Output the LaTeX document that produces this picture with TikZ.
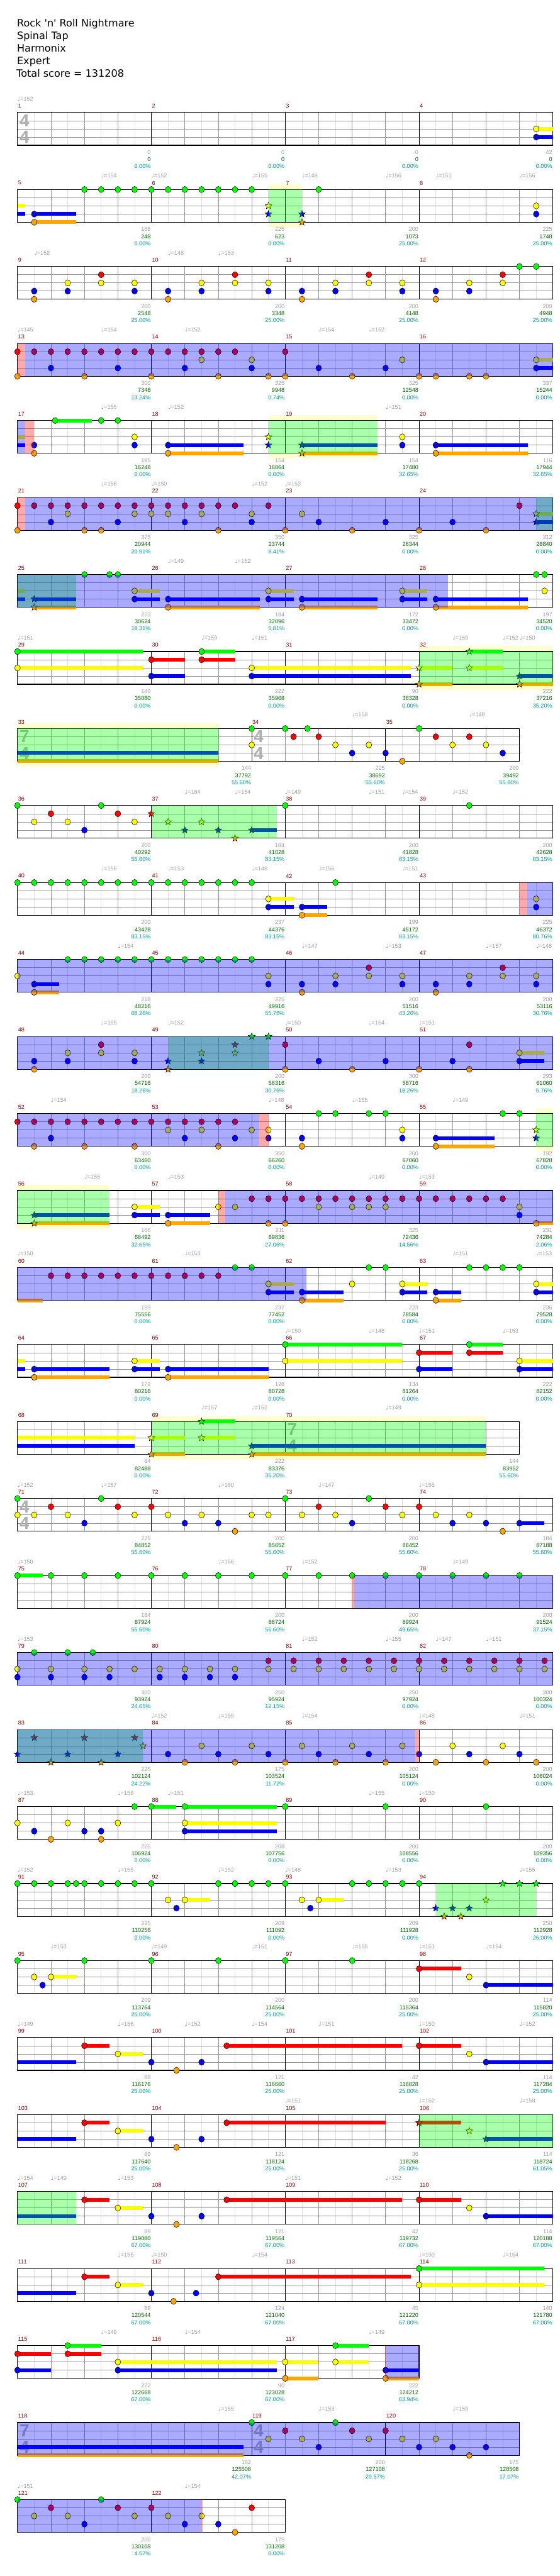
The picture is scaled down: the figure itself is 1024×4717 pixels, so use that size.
\documentclass[tikz,border=0pt]{standalone}
\usepackage{fontspec}
\setmainfont{DejaVu Sans}
\newfontfamily\numfont{Liberation Sans}
\newfontfamily\symfont{DejaVu Sans}

\definecolor{ng}{RGB}{0,255,0}
\definecolor{nr}{RGB}{255,0,0}
\definecolor{ny}{RGB}{255,255,0}
\definecolor{nb}{RGB}{0,0,255}
\definecolor{no}{RGB}{255,165,0}
\definecolor{bandy}{RGB}{255,255,208}
\definecolor{gridl}{RGB}{222,222,222}
\definecolor{gridq}{RGB}{150,150,150}
\definecolor{mred}{RGB}{139,0,0}
\definecolor{tgray}{RGB}{160,160,160}
\definecolor{sgreen}{RGB}{0,100,0}
\definecolor{pteal}{RGB}{0,150,150}
\definecolor{tsgray}{RGB}{175,175,175}

\tikzset{
  notehead/.style={draw=black,line width=0.6pt},
  gridlt/.style={draw=gridl,line width=0.8pt},
  gridqt/.style={draw=gridq,line width=0.8pt},
  barline/.style={draw=black,line width=0.9pt},
  rim/.style={draw=black,line width=1.3pt},
  small/.style={inner sep=0pt,font=\numfont\fontsize{10.5}{12}\selectfont},
  mnum/.style={small,anchor=west,xshift=1pt,text=mred},
  tmp/.style={small,anchor=west,text=tgray},
  scg/.style={small,anchor=east,xshift=-1pt,text=tgray},
  scs/.style={small,anchor=east,xshift=-1pt,text=sgreen},
  scp/.style={small,anchor=east,xshift=-1pt,text=pteal},
  tsg/.style={anchor=west,inner sep=0pt,text=tsgray,font=\numfont\bfseries\fontsize{32}{32}\selectfont},
  ttl/.style={anchor=base west,inner sep=0pt,font=\fontsize{18.5}{22}\selectfont},
}

% staff of #1 eighths
\newcommand\staff[1]{%
  \fill[white] (0,0) rectangle (#1,4);
  \foreach \k in {1,3,...,#1} {\draw[gridlt] (\k,0) -- (\k,4);}
  \foreach \k in {2,4,...,#1} {\draw[gridqt] (\k,0) -- (\k,4);}
  \foreach \l in {1,2,3} {\draw[gridqt] (0,\l) -- (#1,\l);}}
\newcommand\bars[2]{\foreach \k in {#2} {\draw[barline] (\k,0) -- (\k,4);}\draw[rim] (0,0) rectangle (#1,4);}
\newcommand\band[2]{\fill[bandy] (#1,-0.67) rectangle (#2,4.67);}
\newcommand\tsig[3]{\node[tsg] (ts\rid-#1a) at (#1+0.12,1) {#2};\node[tsg] (ts\rid-#1b) at (#1+0.12,3) {#3};}
% notes
\newcommand\nh[3]{\draw[notehead,fill=#3] (#1,#2) ellipse [x radius=5.2pt,y radius=5.6pt];}
\newcommand\nhs[3]{\foreach \k in {#3} {\nh{\k}{#1}{#2}}}
\newcommand\sus[4]{\fill[#4] (#1,#3-0.23) rectangle (#2,#3+0.23);}
\newcommand\snote[3]{\draw[notehead,fill=#3] (#1,#2) +(90:6.5pt) -- +(126:2.8pt) -- +(162:6.5pt) -- +(198:2.8pt) -- +(234:6.5pt) -- +(270:2.8pt) -- +(306:6.5pt) -- +(342:2.8pt) -- +(18:6.5pt) -- +(54:2.8pt) -- cycle;}
\newcommand\sns[3]{\foreach \k in {#3} {\snote{\k}{#1}{#2}}}
% overlays
\newcommand\ovb[2]{\fill[nb,fill opacity=0.333] (#1,0) rectangle (#2,4);}
\newcommand\ovg[2]{\fill[ng,fill opacity=0.333] (#1,0) rectangle (#2,4);}
\newcommand\ovr[2]{\fill[nr,fill opacity=0.333] (#1,0) rectangle (#2,4);}
% texts
\newcommand\meas[2]{\node[mnum] (mn\rid-#1) at (#1,-0.8) {#2};}
\newcommand\mfour[4]{\meas{0}{#1}\meas{8}{#2}\meas{16}{#3}\meas{24}{#4}}
\newcommand\tempo[2]{\node[tmp] (tp\rid-#1) at (#1,-1.67) {{\symfont ♩}=#2};}
\newcommand\tempos[1]{\foreach \k/\v in {#1} {\tempo{\k}{\v}}}
\newcommand\scores[4]{\node[scg] (gy\rid-#1) at (#1,4.87) {#2};\node[scs] (sc\rid-#1) at (#1,5.73) {#3};\node[scp] (pc\rid-#1) at (#1,6.6) {#4\%};}
\newcommand\scorelist[1]{\foreach \k/\a/\b/\c in {#1} {\scores{\k}{\a}{\b}{\c}}}

\begin{document}
\begin{tikzpicture}[x=30.625pt,y=-15pt]
\useasboundingbox (-32pt,0pt) rectangle (992pt,-4717pt);

% header
\node[ttl] (ti1) at (-1pt,-49pt) {Rock \textquotesingle n\textquotesingle{} Roll Nightmare};
\node[ttl] (ti2) at (-1pt,-72pt) {Spinal Tap};
\node[ttl] (ti3) at (-1pt,-95pt) {Harmonix};
\node[ttl] (ti4) at (-1pt,-118pt) {Expert};
\node[ttl] (ti5) at (-2pt,-141pt) {Total score = 131208};

% 1-4
\begin{scope}[yshift=-206pt]\def\rid{1}
\staff{32}\bars{32}{8,16,24}\tsig{0}{4}{4}
\sus{31}{32}{2}{ny}\sus{31}{32}{3}{nb}
\nh{31}{2}{ny}\nh{31}{3}{nb}
\mfour{1}{2}{3}{4}
\tempos{0/152}
\scorelist{8/0/0/0.00,16/0/0/0.00,24/0/0/0.00,32/42/0/0.00}
\end{scope}

% 5-8
\begin{scope}[yshift=-347pt]\def\rid{2}
\band{15}{17}
\staff{32}\bars{32}{8,16,24}
\sus{0}{0.46}{2}{ny}\sus{0}{0.46}{3}{nb}\sus{1}{3.5}{3}{nb}\sus{1}{3.5}{4}{no}
\nhs{0}{ng}{4,...,14,18,...,30}
\nh{1}{3}{nb}\nh{1}{4}{no}\nh{31}{2}{ny}\nh{31}{3}{nb}
\snote{15}{2}{ny}\snote{15}{3}{nb}\snote{17}{3}{nb}\snote{17}{4}{no}
\ovg{15}{17}
\mfour{5}{6}{7}{8}
\tempos{5/154,8/152,14/155,17/148,22/156,25/151,30/156}
\scorelist{8/186/248/0.00,16/225/623/0.00,24/200/1073/25.00,32/225/1748/25.00}
\end{scope}

% 9-12
\begin{scope}[yshift=-488pt]\def\rid{3}
\staff{32}\bars{32}{8,16,24}
\nhs{0}{ng}{30,31}
\nhs{1}{nr}{5,13,21,29}
\nhs{2}{ny}{3,5,7,11,13,15,19,21,23,27,29}
\nhs{3}{nb}{1,3,7,9,11,15,17,19,23,25,27}
\nhs{4}{no}{1,9,17,25}
\mfour{9}{10}{11}{12}
\tempos{1/152,9/148,12/153}
\scorelist{8/200/2548/25.00,16/200/3348/25.00,24/200/4148/25.00,32/200/4948/25.00}
\end{scope}

% 13-16
\begin{scope}[yshift=-629pt]\def\rid{4}
\staff{32}\bars{32}{8,16,24}
\sus{31}{32}{2}{ny}\sus{31}{32}{3}{nb}
\nhs{1}{nr}{0,...,13,16,...,30}
\nhs{2}{ny}{11,14,23,31}
\nhs{3}{nb}{2,6,10,14,18,22,31}
\nhs{4}{no}{0,4,8,12,15,16,20,24,25,27,28}
\ovr{0}{0.46}\ovb{0.46}{32}
\mfour{13}{14}{15}{16}
\tempos{0/145,5/154,10/152,18/154,21/152}
\scorelist{8/300/7348/13.24,16/325/9948/0.74,24/325/12548/0.00,32/337/15244/0.00}
\end{scope}

% 17-20
\begin{scope}[yshift=-770pt]\def\rid{5}
\band{15}{21.5}
\staff{32}\bars{32}{8,16,24}
\sus{0}{0.46}{2}{ny}\sus{0}{0.46}{3}{nb}\sus{2.25}{4.46}{0}{ng}
\sus{9}{13.5}{3}{nb}\sus{9}{13.5}{4}{no}\sus{17}{21.5}{3}{nb}\sus{17}{21.5}{4}{no}
\sus{25}{30.5}{3}{nb}\sus{25}{30.5}{4}{no}
\nhs{0}{ng}{2.25,5,6}
\nhs{2}{ny}{7,23}
\nhs{3}{nb}{1,7,9,23,25}
\nhs{4}{no}{1,9,25}
\snote{15}{2}{ny}\snote{15}{3}{nb}\snote{17}{3}{nb}\snote{17}{4}{no}
\ovb{0}{0.46}\ovr{0.46}{1}\ovg{15}{21.5}
\mfour{17}{18}{19}{20}
\tempos{5/155,9/152,22/151}
\scorelist{8/195/16248/0.00,16/154/16864/0.00,24/154/17480/32.65,32/116/17944/32.65}
\end{scope}

% 21-24
\begin{scope}[yshift=-911pt]\def\rid{6}
\staff{32}\bars{32}{8,16,24}
\sus{31}{32}{2}{ny}\sus{31}{32}{3}{nb}
\nhs{1}{nr}{0,...,13,15,...,30}
\nhs{2}{ny}{3,7,8,9,11,14,17}
\nhs{3}{nb}{2,6,10,14,18,22,26}
\nhs{4}{no}{0,4,5,12,16,20,24,28}
\snote{31}{2}{ny}\snote{31}{3}{nb}
\ovr{0}{0.46}\ovg{31}{32}\ovb{0.46}{32}
\mfour{21}{22}{23}{24}
\tempos{5/156,8/150,14/152,16/153}
\scorelist{8/375/20944/20.91,16/350/23744/8.41,24/325/26344/0.00,32/312/28840/0.00}
\end{scope}

% 25-28
\begin{scope}[yshift=-1052pt]\def\rid{7}
\staff{32}\bars{32}{8,16,24}
\sus{0}{0.46}{2}{ny}\sus{0}{0.46}{3}{nb}
\foreach \a/\b in {7/8.5,15/16.5,23/24.5} {\sus{\a}{\b}{2}{ny}}
\foreach \a/\b in {1/3.5,7/8.5,9/14.5,15/16.5,17/21.5,23/24.5,25/30.5} {\sus{\a}{\b}{3}{nb}}
\foreach \a/\b in {1/3.5,9/14.5,17/21.5,25/30.5} {\sus{\a}{\b}{4}{no}}
\nhs{0}{ng}{4,5.5,6,31,31.5}
\nhs{2}{ny}{7,15,23,31.5}
\nhs{3}{nb}{7,9,15,17,23,25}
\nhs{4}{no}{9,17,25}
\snote{1}{3}{nb}\snote{1}{4}{no}
\ovg{0}{3.5}\ovb{0}{25.73}
\mfour{25}{26}{27}{28}
\tempos{9/149,13/152}
\scorelist{8/223/30624/18.31,16/184/32096/5.81,24/172/33472/0.00,32/197/34520/0.00}
\end{scope}

% 29-32
\begin{scope}[yshift=-1193pt]\def\rid{8}
\band{24}{32}
\staff{32}\bars{32}{8,16,24}
\foreach \a/\b in {0/7.5,11/13,27/29} {\sus{\a}{\b}{0}{ng}}
\foreach \a/\b in {8/10,11/13} {\sus{\a}{\b}{1}{nr}}
\foreach \a/\b in {0/7.5,14/23.5,24/26,27/29} {\sus{\a}{\b}{2}{ny}}
\foreach \a/\b in {8/10,14/23.5,30/32} {\sus{\a}{\b}{3}{nb}}
\foreach \a/\b in {24/26,30/32} {\sus{\a}{\b}{4}{no}}
\nhs{0}{ng}{0,11}\nhs{1}{nr}{8,11}\nhs{2}{ny}{0,14}\nhs{3}{nb}{8,14}
\snote{27}{0}{ng}\sns{2}{ny}{24,27}\snote{30}{3}{nb}\sns{4}{no}{24,30}
\ovg{24}{32}
\mfour{29}{30}{31}{32}
\tempos{0/151,11/159,14/151,26/159,29/152,30/150}
\scorelist{8/140/35080/0.00,16/222/35968/0.00,24/90/36328/0.00,32/222/37216/35.20}
\end{scope}

% 33-35
\begin{scope}[yshift=-1334pt]\def\rid{9}
\band{0}{12}
\staff{30}\bars{30}{14,22}\tsig{0}{7}{4}\tsig{14}{4}{4}
\sus{0}{12}{3}{nb}\sus{0}{12}{4}{no}
\nhs{0}{ng}{14,16,17.33,24}
\nhs{1}{nr}{16.5,18,25,27}
\nhs{2}{ny}{14,19,21,26,28}
\nhs{3}{nb}{20,22,29}
\nhs{4}{no}{23}
\ovg{0}{12}
\meas{0}{33}\meas{14}{34}\meas{22}{35}
\tempos{20/158,27/148}
\scorelist{14/144/37792/55.60,22/225/38692/55.60,30/200/39492/55.60}
\end{scope}

% 36-39
\begin{scope}[yshift=-1475pt]\def\rid{10}
\staff{32}\bars{32}{8,16,24}
\sus{14}{15.5}{3}{nb}
\nhs{0}{ng}{0,5,16,...,31}
\nhs{1}{nr}{2,6}\nhs{2}{ny}{1,3,7}\nhs{3}{nb}{4}
\snote{8}{1}{nr}\sns{2}{ny}{9,11}\sns{3}{nb}{10,12,14}\snote{13}{4}{no}
\ovg{8}{15.5}
\mfour{36}{37}{38}{39}
\tempos{10/164,13/154,16/149,21/151,23/154,26/152}
\scorelist{8/200/40292/55.60,16/184/41028/83.15,24/200/41828/83.15,32/200/42628/83.15}
\end{scope}

% 40-43
\begin{scope}[yshift=-1616pt]\def\rid{11}
\staff{32}\bars{32}{8,16,24}
\sus{15}{16.5}{2}{ny}\sus{15}{16.5}{3}{nb}\sus{17}{18.5}{3}{nb}\sus{17}{18.5}{4}{no}
\nhs{0}{ng}{0,...,14,19,...,30}
\nhs{2}{ny}{15,31}\nhs{3}{nb}{15,17,31}\nhs{4}{no}{17}
\ovr{30}{30.46}\ovb{30.46}{32}
\mfour{40}{41}{42}{43}
\tempos{5/156,9/153,14/148,18/156,23/151}
\scorelist{8/200/43428/83.15,16/237/44376/83.15,24/199/45172/83.15,32/225/46372/80.76}
\end{scope}

% 44-47
\begin{scope}[yshift=-1757pt]\def\rid{12}
\staff{32}\bars{32}{8,16,24}
\sus{1}{2.5}{3}{nb}\sus{1}{2.5}{4}{no}
\nhs{0}{ng}{3,...,14}
\nhs{1}{nr}{21,29}
\nhs{2}{ny}{0,15,19,21,23,27,29,31}
\nhs{3}{nb}{1,15,17,19,23,25,27,31}
\nhs{4}{no}{1,17,25}
\ovb{0}{32}
\mfour{44}{45}{46}{47}
\tempos{6/154,17/147,22/153,28/157,31/148}
\scorelist{8/218/48216/68.26,16/225/49916/55.76,24/200/51516/43.26,32/200/53116/30.76}
\end{scope}

% 48-51
\begin{scope}[yshift=-1898pt]\def\rid{13}
\staff{32}\bars{32}{8,16,24}
\sus{30}{31.5}{2}{ny}\sus{30}{31.5}{3}{nb}
\nhs{1}{nr}{5,16,...,29}
\nhs{2}{ny}{3,5,7,30}
\nhs{3}{nb}{1,3,7,18,22,26,30}
\nhs{4}{no}{1,16,20,24,27}
\sns{0}{ng}{14,15}\snote{13}{1}{nr}\sns{2}{ny}{11,13}\sns{3}{nb}{9,11}\snote{9}{4}{no}
\ovg{9}{15}\ovb{0}{32}
\mfour{48}{49}{50}{51}
\tempos{5/155,9/152,16/150,21/154,24/151}
\scorelist{8/200/54716/18.26,16/200/56316/30.76,24/300/58716/18.26,32/293/61060/5.76}
\end{scope}

% 52-55
\begin{scope}[yshift=-2039pt]\def\rid{14}
\band{31}{32}
\staff{32}\bars{32}{8,16,24}
\sus{25}{28.5}{3}{nb}\sus{25}{28.5}{4}{no}
\nhs{0}{ng}{18,19,21,22,29,30}
\nhs{1}{nr}{0,...,13}
\nhs{2}{ny}{9,11,14,15,23}
\nhs{3}{nb}{2,10,13,15,17,23,25}
\nhs{4}{no}{1,4,7,12,17,25}
\snote{31}{2}{ny}\snote{31}{3}{nb}
\ovg{31}{32}\ovb{0}{14.45}\ovr{14.45}{15}
\mfour{52}{53}{54}{55}
\tempos{2/154,15/148,20/155,26/149}
\scorelist{8/300/63460/0.00,16/350/66260/0.00,24/200/67060/0.00,32/192/67828/0.00}
\end{scope}

% 56-59
\begin{scope}[yshift=-2180pt]\def\rid{15}
\band{0}{5.5}
\staff{32}\bars{32}{8,16,24}
\sus{7}{8.5}{2}{ny}
\foreach \a/\b in {1/5.5,7/8.5,9/11.5} {\sus{\a}{\b}{3}{nb}}
\foreach \a/\b in {1/5.5,9/11.5,31/32} {\sus{\a}{\b}{4}{no}}
\nhs{1}{nr}{14,...,29}
\nhs{2}{ny}{7,12,13,18,20,21,22,30}
\nhs{3}{nb}{7,9,30}
\nhs{4}{no}{9,15,16,31}
\snote{1}{3}{nb}\snote{1}{4}{no}
\ovg{0}{5.5}\ovr{12}{12.4}\ovb{12.4}{32}
\mfour{56}{57}{58}{59}
\tempos{4/155,9/153,21/149,24/153}
\scorelist{8/166/68492/32.65,16/211/69836/27.06,24/325/72436/14.56,32/231/74284/2.06}
\end{scope}

% 60-63
\begin{scope}[yshift=-2321pt]\def\rid{16}
\staff{32}\bars{32}{8,16,24}
\foreach \a/\b in {15/16.5,23/24.5,31/32} {\sus{\a}{\b}{2}{ny}}
\foreach \a/\b in {15/16.5,17/19.5,23/24.5,25/26.5,31/32} {\sus{\a}{\b}{3}{nb}}
\foreach \a/\b in {0/1.5,17/19.5,25/26.5} {\sus{\a}{\b}{4}{no}}
\nhs{0}{ng}{13,14,21,22,27,28,29,30}
\nhs{1}{nr}{2,...,12}
\nhs{2}{ny}{15,20,23,31}
\nhs{3}{nb}{15,17,23,25,31}
\nhs{4}{no}{17,25}
\ovb{0}{17.28}
\mfour{60}{61}{62}{63}
\tempos{0/150,10/153,26/151,31/153}
\scorelist{8/159/75556/0.00,16/237/77452/0.00,24/223/78584/0.00,32/236/79528/0.00}
\end{scope}

% 64-67
\begin{scope}[yshift=-2462pt]\def\rid{17}
\staff{32}\bars{32}{8,16,24}
\foreach \a/\b in {16/23,27/29} {\sus{\a}{\b}{0}{ng}}
\foreach \a/\b in {24/26,27/29} {\sus{\a}{\b}{1}{nr}}
\foreach \a/\b in {0/0.46,7/8.5,16/23,30/32} {\sus{\a}{\b}{2}{ny}}
\foreach \a/\b in {0/0.46,1/5.5,7/8.5,9/15,24/26,30/32} {\sus{\a}{\b}{3}{nb}}
\foreach \a/\b in {1/5.5,9/15} {\sus{\a}{\b}{4}{no}}
\nhs{0}{ng}{16,27}\nhs{1}{nr}{24,27}\nhs{2}{ny}{7,16,30}
\nhs{3}{nb}{1,7,9,24,30}\nhs{4}{no}{1,9}
\mfour{64}{65}{66}{67}
\tempos{16/150,21/148,24/151,29/153}
\scorelist{8/172/80216/0.00,16/128/80728/0.00,24/134/81264/0.00,32/222/82152/0.00}
\end{scope}

% 68-70
\begin{scope}[yshift=-2603pt]\def\rid{18}
\band{8}{28}
\staff{30}\bars{30}{8,16}\tsig{16}{7}{4}
\sus{11}{13}{0}{ng}
\foreach \a/\b in {0/7,8/10,11/13} {\sus{\a}{\b}{2}{ny}}
\foreach \a/\b in {0/7,14/28} {\sus{\a}{\b}{3}{nb}}
\foreach \a/\b in {8/10,14/28} {\sus{\a}{\b}{4}{no}}
\snote{11}{0}{ng}\sns{2}{ny}{8,11}\snote{14}{3}{nb}\sns{4}{no}{8,14}
\ovg{8}{28}
\meas{0}{68}\meas{8}{69}\meas{16}{70}
\tempos{11/157,14/152,22/149}
\scorelist{8/84/82488/0.00,16/222/83376/35.20,30/144/83952/55.60}
\end{scope}

% 71-74
\begin{scope}[yshift=-2744pt]\def\rid{19}
\staff{32}\bars{32}{8,16,24}\tsig{0}{4}{4}
\sus{30}{31.5}{3}{nb}
\nhs{0}{ng}{0,5,16,21}
\nhs{1}{nr}{2,6,8,18,22,24}
\nhs{2}{ny}{0,1,3,7,9,11,14,15,17,19,23,25,27}
\nhs{3}{nb}{4,10,12,20,26,28,30}
\nhs{4}{no}{13,29}
\mfour{71}{72}{73}{74}
\tempos{0/152,5/157,12/150,18/147,24/155}
\scorelist{8/225/84852/55.60,16/200/85652/55.60,24/200/86452/55.60,32/184/87188/55.60}
\end{scope}

% 75-78
\begin{scope}[yshift=-2885pt]\def\rid{20}
\staff{32}\bars{32}{8,16,24}
\sus{0}{1.5}{0}{ng}
\nhs{0}{ng}{0,2,...,31}
\ovr{20}{20.13}\ovb{20.13}{32}
\mfour{75}{76}{77}{78}
\tempos{0/150,12/156,17/152,26/149}
\scorelist{8/184/87924/55.60,16/200/88724/55.60,24/200/89924/49.65,32/200/91524/37.15}
\end{scope}

% 79-82
\begin{scope}[yshift=-3026pt]\def\rid{21}
\staff{32}\bars{32}{8,16,24}
\nhs{0}{ng}{1,3,4.5}
\nhs{1}{nr}{15,16.5,18,19.5,21,22.5,24,25.5,27,28.5,30,31.5}
\nhs{2}{ny}{0,2,4,5.5,7,8.5,10,11.5,13,15,16.5,18,19.5,21,22.5,24,25.5,27,28.5,30,31.5}
\nhs{3}{nb}{0,2,4,5.5,8.5,10,11.5,13}
\ovb{0}{32}
\mfour{79}{80}{81}{82}
\tempos{0/153,17/152,22/155,25/147,28/151}
\scorelist{8/300/93924/24.65,16/250/95924/12.15,24/250/97924/0.00,32/300/100324/0.00}
\end{scope}

% 83-86
\begin{scope}[yshift=-3167pt]\def\rid{22}
\staff{32}\bars{32}{8,16,24}
\nhs{2}{ny}{11,14,17,20,23,26,29}
\nhs{3}{nb}{9,12,15,18,21,24,27,30}
\nhs{4}{no}{10,13,16,19,22,25,28,31}
\sns{1}{nr}{1,4,7}\snote{7.5}{2}{ny}\sns{3}{nb}{0,3,6}\sns{4}{no}{2,5}
\ovg{0}{7.5}\ovb{0}{23.77}\ovr{23.77}{24}
\mfour{83}{84}{85}{86}
\tempos{8/152,12/155,17/154,24/148,30/151}
\scorelist{8/225/102124/24.22,16/175/103524/11.72,24/200/105124/0.00,32/200/106024/0.00}
\end{scope}

% 87-90
\begin{scope}[yshift=-3308pt]\def\rid{23}
\staff{32}\bars{32}{8,16,24}
\sus{8}{9.5}{0}{ng}\sus{10}{15.5}{0}{ng}\sus{10}{15.5}{2}{ny}\sus{10}{15.5}{3}{nb}
\nhs{0}{ng}{7,8,10,16,...,31}
\nhs{2}{ny}{0,3,6,10}
\nhs{3}{nb}{1,4,5,10}
\nhs{4}{no}{2,5}
\mfour{87}{88}{89}{90}
\tempos{0/153,6/156,9/151,21/155,24/150}
\scorelist{8/225/106924/0.00,16/208/107756/0.00,24/200/108556/0.00,32/200/109356/0.00}
\end{scope}

% 91-94
\begin{scope}[yshift=-3449pt]\def\rid{24}
\staff{32}\bars{32}{8,16,24}
\sus{10}{11.5}{2}{ny}\sus{18}{19.5}{2}{ny}
\nhs{0}{ng}{0,1,2,3,3.5,4,5,6,7,8,12,13,14,15,16,20,21,22,23,24}
\nhs{2}{ny}{9,10,17,18}
\nhs{3}{nb}{9.5,17.5}
\sns{0}{ng}{29,30,31}\snote{28}{2}{ny}\sns{3}{nb}{25,26,27}\sns{4}{no}{25.5,26.5}
\ovg{25}{31}
\mfour{91}{92}{93}{94}
\tempos{0/152,6/155,12/152,16/148,22/153,30/155}
\scorelist{8/225/110256/0.00,16/209/111092/0.00,24/209/111928/0.00,32/250/112928/25.00}
\end{scope}

% 95-98
\begin{scope}[yshift=-3590pt]\def\rid{25}
\staff{32}\bars{32}{8,16,24}
\sus{24}{26.5}{1}{nr}\sus{2}{3.5}{2}{ny}\sus{28}{32}{3}{nb}
\nhs{0}{ng}{0,4,...,23}
\nhs{1}{nr}{24}
\nhs{2}{ny}{1,2,27}
\nhs{3}{nb}{1.5,28}
\mfour{95}{96}{97}{98}
\tempos{2/153,8/149,14/151,20/155,24/151,28/154}
\scorelist{8/209/113764/25.00,16/200/114564/25.00,24/200/115364/25.00,32/114/115820/25.00}
\end{scope}

% 99-102
\begin{scope}[yshift=-3731pt]\def\rid{26}
\staff{32}\bars{32}{8,16,24}
\foreach \a/\b in {4/5.5,12.5/23,24/26.5} {\sus{\a}{\b}{1}{nr}}
\sus{6}{7.5}{2}{ny}\sus{0}{3.5}{3}{nb}\sus{28}{32}{3}{nb}
\nhs{1}{nr}{4,12.5,24}
\nhs{2}{ny}{6,27}
\nhs{3}{nb}{8,11,28}
\nhs{4}{no}{9.5}
\mfour{99}{100}{101}{102}
\tempos{0/149,6/156,10/152,14/154,18/151,24/150,30/152}
\scorelist{8/89/116176/25.00,16/121/116660/25.00,24/42/116828/25.00,32/114/117284/25.00}
\end{scope}

% 103-106
\begin{scope}[yshift=-3872pt]\def\rid{27}
\staff{32}\bars{32}{8,16,24}
\foreach \a/\b in {4/5.5,12.5/22,24/26.5} {\sus{\a}{\b}{1}{nr}}
\sus{6}{7.5}{2}{ny}\sus{0}{3.5}{3}{nb}\sus{28}{32}{3}{nb}
\nhs{1}{nr}{4,12.5}
\nhs{2}{ny}{6}
\nhs{3}{nb}{8,11}
\nhs{4}{no}{9.5}
\snote{24}{1}{nr}\snote{27}{2}{ny}\snote{28}{3}{nb}
\ovg{24}{32}
\mfour{103}{104}{105}{106}
\tempos{16/151,24/152,30/158}
\scorelist{8/89/117640/25.00,16/121/118124/25.00,24/36/118268/25.00,32/114/118724/61.05}
\end{scope}

% 107-110
\begin{scope}[yshift=-4013pt]\def\rid{28}
\staff{32}\bars{32}{8,16,24}
\foreach \a/\b in {4/5.5,12.5/23,24/26.5} {\sus{\a}{\b}{1}{nr}}
\sus{6}{7.5}{2}{ny}\sus{0}{3.5}{3}{nb}\sus{28}{32}{3}{nb}
\nhs{1}{nr}{4,12.5,24}
\nhs{2}{ny}{6,27}
\nhs{3}{nb}{8,11,28}
\nhs{4}{no}{9.5}
\ovg{0}{3.5}
\mfour{107}{108}{109}{110}
\tempos{0/154,2/149,6/153,16/151,22/152}
\scorelist{8/89/119080/67.00,16/121/119564/67.00,24/42/119732/67.00,32/114/120188/67.00}
\end{scope}

% 111-114
\begin{scope}[yshift=-4154pt]\def\rid{29}
\staff{32}\bars{32}{8,16,24}
\sus{24}{31.5}{0}{ng}\sus{4}{5.5}{1}{nr}\sus{12}{23.5}{1}{nr}
\sus{6}{7.5}{2}{ny}\sus{24}{31.5}{2}{ny}\sus{0}{3.5}{3}{nb}
\nhs{0}{ng}{24}
\nhs{1}{nr}{4,12}
\nhs{2}{ny}{6,24}
\nhs{3}{nb}{8,10.67}
\nhs{4}{no}{9.33}
\mfour{111}{112}{113}{114}
\tempos{6/156,8/150,14/154,24/150,29/154}
\scorelist{8/89/120544/67.00,16/124/121040/67.00,24/45/121220/67.00,32/140/121780/67.00}
\end{scope}

% 115-117
\begin{scope}[yshift=-4295pt]\def\rid{30}
\staff{24}\bars{24}{8,16}
\foreach \a/\b in {3/5,19/21} {\sus{\a}{\b}{0}{ng}}
\foreach \a/\b in {0/2,3/5} {\sus{\a}{\b}{1}{nr}}
\foreach \a/\b in {6/15.5,16/18,19/21} {\sus{\a}{\b}{2}{ny}}
\foreach \a/\b in {0/2,6/15.5,22/24} {\sus{\a}{\b}{3}{nb}}
\foreach \a/\b in {16/18,22/24} {\sus{\a}{\b}{4}{no}}
\nhs{0}{ng}{3,19}
\nhs{1}{nr}{0,3}
\nhs{2}{ny}{6,16,19}
\nhs{3}{nb}{0,6,22}
\nhs{4}{no}{16,22}
\ovr{21.95}{22.05}\ovb{22.05}{24}
\meas{0}{115}\meas{8}{116}\meas{16}{117}
\tempos{5/149,10/154,21/149}
\scorelist{8/222/122668/67.00,16/90/123028/67.00,24/222/124212/63.94}
\end{scope}

% 118-120
\begin{scope}[yshift=-4436pt]\def\rid{31}
\staff{30}\bars{30}{14,22}\tsig{0}{7}{4}\tsig{14}{4}{4}
\sus{0}{13.5}{3}{nb}\sus{0}{13.5}{4}{no}
\nhs{0}{ng}{14,19}
\nhs{1}{nr}{16,20,22}
\nhs{2}{ny}{15,17,21,23,25}
\nhs{3}{nb}{18,24,26,28}
\nhs{4}{no}{27}
\ovb{0}{30}
\meas{0}{118}\meas{14}{119}\meas{22}{120}
\tempos{12/155,18/153,26/159}
\scorelist{14/162/125508/42.07,22/200/127108/29.57,30/175/128508/17.07}
\end{scope}

% 121-122
\begin{scope}[yshift=-4577pt]\def\rid{32}
\staff{16}\bars{16}{8}
\nhs{0}{ng}{0,5}
\nhs{1}{nr}{2,6,8,14}
\nhs{2}{ny}{1,3,7,9,11}
\nhs{3}{nb}{4,10,12}
\nhs{4}{no}{13}
\ovb{0}{10.95}\ovr{10.95}{11.05}
\meas{0}{121}\meas{8}{122}
\tempos{0/151,10/154}
\scorelist{8/200/130108/4.57,16/175/131208/0.00}
\end{scope}

\end{tikzpicture}
\end{document}
